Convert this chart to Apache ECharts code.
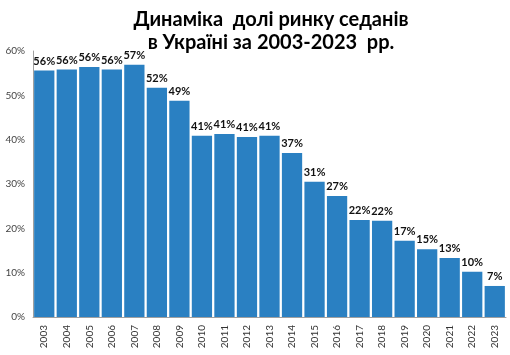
<!DOCTYPE html>
<html><head><meta charset="utf-8">
<script src="https://cdn.jsdelivr.net/npm/echarts@6/dist/echarts.min.js"></script>
<style>html,body{margin:0;padding:0;background:#fff}#c{width:510px;height:355px}</style>
</head><body><div id="c"></div>
<script>
const titleLines = ['Динаміка  долі ринку седанів', 'в Україні за 2003-2023  рр.'];
const years = ['2003','2004','2005','2006','2007','2008','2009','2010','2011','2012','2013','2014','2015','2016','2017','2018','2019','2020','2021','2022','2023'];
const shares = [55.6,55.8,56.4,55.8,56.9,51.7,48.8,40.9,41.3,40.6,40.9,37.0,30.5,27.3,21.9,21.7,17.2,15.3,13.3,10.2,7.0];
const yTicks = [0,10,20,30,40,50,60];

const chart = echarts.init(document.getElementById('c'));
chart.setOption({
  animation: false,
  title: {
    text: titleLines.join('\n'),
    left: 266, top: 3, textAlign: 'center',
    textStyle: {fontFamily: 'Lato', fontWeight: 'bold', fontSize: 20, color: '#000', lineHeight: 23}
  },
  grid: {left: 33, right: 4, top: 51, bottom: 38},
  xAxis: {
    type: 'category', data: years,
    axisLine: {lineStyle: {color: '#a0a0a0'}},
    axisTick: {show: false},
    axisLabel: {rotate: 90, fontFamily: 'Lato', fontSize: 10, color: '#333', margin: 8}
  },
  yAxis: {
    type: 'value', min: yTicks[0], max: yTicks[yTicks.length-1], interval: 10,
    axisLine: {show: true, lineStyle: {color: '#a0a0a0'}},
    axisTick: {show: false},
    splitLine: {show: false},
    axisLabel: {formatter: v => v + '%', fontFamily: 'Lato', fontSize: 10, color: '#444', margin: 8}
  },
  series: [{
    type: 'bar', data: shares, barCategoryGap: '10%',
    itemStyle: {color: '#2a80c2'},
    label: {show: true, position: 'top', distance: 4, formatter: p => Math.round(p.value) + '%',
      fontFamily: 'Lato', fontWeight: 'bold', fontSize: 11, color: '#111'}
  }]
});
</script></body></html>
